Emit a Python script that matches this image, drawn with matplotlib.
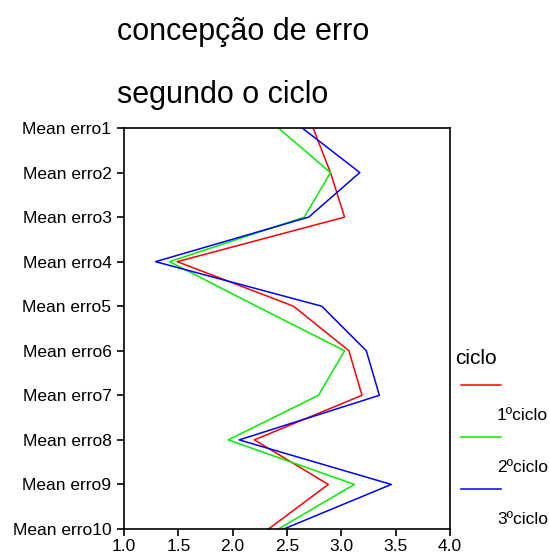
import matplotlib
matplotlib.use('Agg')
import matplotlib.pyplot as plt
from matplotlib.lines import Line2D

plt.rcParams['font.family'] = ['Liberation Sans', 'DejaVu Sans']

categories = ['Mean erro1', 'Mean erro2', 'Mean erro3', 'Mean erro4', 'Mean erro5',
              'Mean erro6', 'Mean erro7', 'Mean erro8', 'Mean erro9', 'Mean erro10']
ciclo1 = [2.74, 2.90, 3.03, 1.49, 2.56, 3.07, 3.19, 2.20, 2.88, 2.33]
ciclo2 = [2.42, 2.90, 2.66, 1.42, 2.22, 3.03, 2.79, 1.96, 3.12, 2.42]
ciclo3 = [2.64, 3.17, 2.70, 1.29, 2.82, 3.23, 3.35, 2.06, 3.46, 2.47]
series_names = ['1ºciclo', '2ºciclo', '3ºciclo']
colors = ['#ff0000', '#00ee00', '#0000ff']

fig = plt.figure(figsize=(5.49, 5.55), dpi=100)
ax = fig.add_axes([124 / 549, 26 / 555, 326 / 549, 401 / 555])

pos = list(range(len(categories)))
for vals, c in zip([ciclo1, ciclo2, ciclo3], colors):
    ax.plot(vals, pos, color=c, lw=1.1)

ax.set_xlim(1.0, 4.0)
ax.set_ylim(len(categories) - 1, 0)
ax.set_xticks([1.0, 1.5, 2.0, 2.5, 3.0, 3.5, 4.0])
ax.set_xticklabels(['1.0', '1.5', '2.0', '2.5', '3.0', '3.5', '4.0'], fontsize=12.5)
ax.set_yticks(pos)
ax.set_yticklabels(categories, fontsize=12.5)
ax.tick_params(direction='out', length=5, width=1.2, colors='black', pad=4)
ax.tick_params(axis='x', pad=2)
for s in ax.spines.values():
    s.set_linewidth(1.2)

fig.text(117 / 549, 1 - 32 / 555, 'concepção de erro', fontsize=22, va='center', ha='left')
fig.text(117 / 549, 1 - 95 / 555, 'segundo o ciclo', fontsize=22, va='center', ha='left')

# legend drawn by hand
fig.text(455 / 549, 1 - 359 / 555, 'ciclo', fontsize=15, va='center', ha='left')
for i, (name, c) in enumerate(zip(series_names, colors)):
    ly = 1 - (385 + 52 * i) / 555
    fig.add_artist(Line2D([461 / 549, 501 / 549], [ly, ly], color=c, lw=1.1,
                          transform=fig.transFigure))
    fig.text(548 / 549, 1 - (416 + 52 * i) / 555, name, fontsize=12.5, va='center', ha='right')

fig.savefig('out.png', dpi=100)
